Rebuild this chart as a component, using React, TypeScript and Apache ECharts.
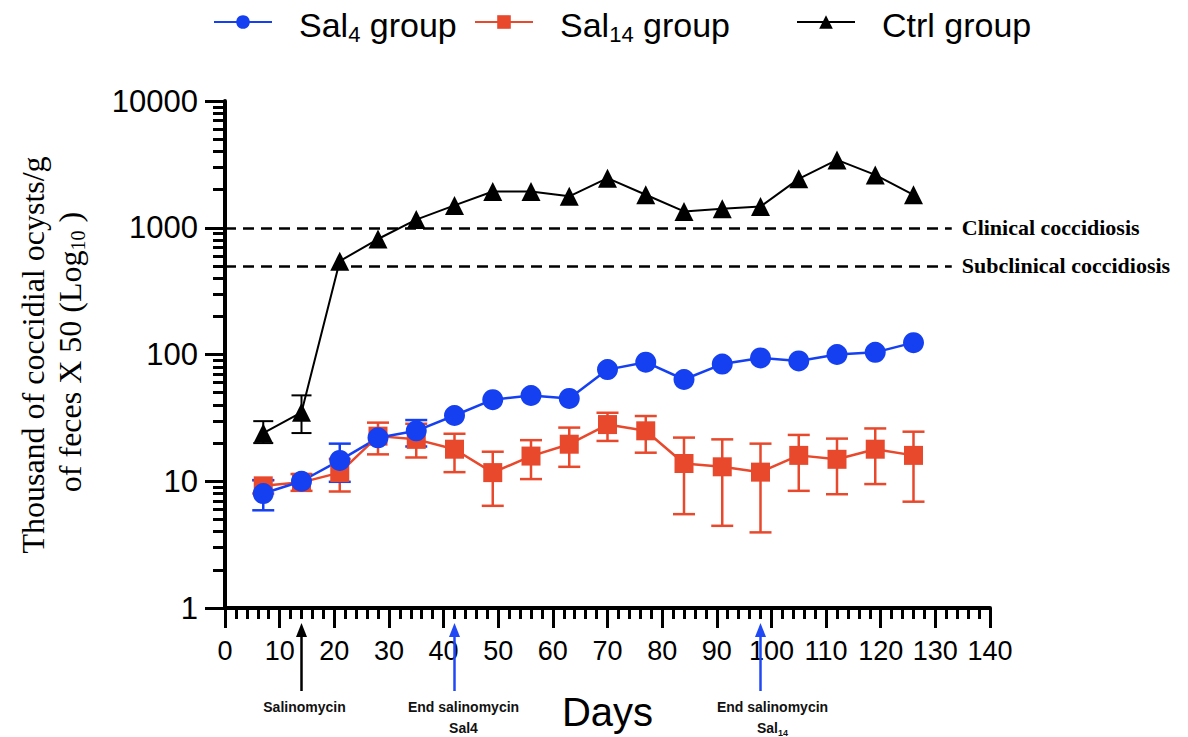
import React, { useEffect, useRef } from "react";
import * as echarts from "echarts";

// ---------- data ----------
const days = [7, 14, 21, 28, 35, 42, 49, 56, 63, 70, 77, 84, 91, 98, 105, 112, 119, 126];

const sal4 = [8, 10, 14.6, 22, 25, 33, 44, 47.5, 45, 76, 87, 63.5, 84, 94, 89, 100, 104, 124];
const sal4Low: (number | null)[] = [5.9, null, 9.9, null, 18.8, null, null, null, null, null, null, null, null, null, null, null, null, null];
const sal4High: (number | null)[] = [10.2, null, 19.8, null, 30.4, null, null, null, null, null, null, null, null, null, null, null, null, null];

const sal14 = [9.2, 9.8, 11.7, 22.7, 21.4, 17.9, 11.7, 15.8, 19.6, 28, 25, 13.8, 13, 11.8, 16, 14.9, 17.9, 16];
const sal14Low: (number | null)[] = [8.0, 8.4, 8.3, 16.3, 15.4, 11.8, 6.4, 10.4, 13, 20.8, 16.8, 5.5, 4.45, 3.95, 8.4, 7.9, 9.5, 6.9];
const sal14High: (number | null)[] = [10.2, 11.4, 15, 29, 28.4, 23.7, 17.1, 21.1, 26.5, 34.7, 32.7, 22.1, 21.4, 19.8, 23.2, 21.7, 26.1, 24.6];

const ctrl = [24, 35, 545, 815, 1160, 1500, 1930, 1930, 1770, 2460, 1820, 1345, 1410, 1470, 2430, 3430, 2610, 1820];
const ctrlLow: (number | null)[] = [20, 24, null, null, null, null, null, null, null, null, null, null, null, null, null, null, null, null];
const ctrlHigh: (number | null)[] = [29.8, 47.6, null, null, null, null, null, null, null, null, null, null, null, null, null, null, null, null];

const clinicalLevel = 1000;
const subclinicalLevel = 500;
const thresholdEndDay = 133;

const xTicks = { min: 0, max: 140, interval: 10 };
const yDecades = [1, 10, 100, 1000, 10000];

const arrowDays = [14, 42, 98];
const arrowLine1 = ["Salinomycin", "End salinomycin", "End salinomycin"];
const arrowLine2 = ["", "{b|Sal4}", "{b|Sal}{s|14}"];

// ---------- styles ----------
const BLUE = "#1540f2";
const RED = "#e8482b";
const BLACK = "#000000";
const SANS = "'Liberation Sans', Arial, Helvetica, sans-serif";
const SERIF = "'Liberation Serif', 'Times New Roman', serif";
const arrowColors = [BLACK, "#2148f5", "#2148f5"];
const arrowTextDx = [3, 9, 12];

// log minor tick positions (2..9 x each decade)
const yMinorValues: number[] = [];
for (let k = 0; k < yDecades.length - 1; k++) {
  for (let m = 2; m <= 9; m++) yMinorValues.push(m * yDecades[k]);
}

function errData(low: (number | null)[], high: (number | null)[]) {
  const out: number[][] = [];
  days.forEach((d, i) => {
    if (low[i] != null && high[i] != null) out.push([d, low[i] as number, high[i] as number]);
  });
  return out;
}

function errRender(color: string, capW: number, lw: number) {
  return (_params: any, api: any) => {
    const x = api.value(0);
    const lo = api.coord([x, api.value(1)]);
    const hi = api.coord([x, api.value(2)]);
    const style = { stroke: color, lineWidth: lw, fill: "none" };
    return {
      type: "group",
      children: [
        { type: "line", shape: { x1: lo[0], y1: lo[1], x2: hi[0], y2: hi[1] }, style },
        { type: "line", shape: { x1: hi[0] - capW / 2, y1: hi[1], x2: hi[0] + capW / 2, y2: hi[1] }, style },
        { type: "line", shape: { x1: lo[0] - capW / 2, y1: lo[1], x2: lo[0] + capW / 2, y2: lo[1] }, style },
      ],
    };
  };
}

const legendCommon = {
  orient: "horizontal" as const,
  top: 8,
  padding: 0,
  itemWidth: 58,
  itemHeight: 17,
  selectedMode: false,
  formatter: (name: string) => {
    if (name === "Sal4 group") return "{a|Sal}{s|4}{a| group}";
    if (name === "Sal14 group") return "{a|Sal}{s|14}{a| group}";
    return "{a|" + name + "}";
  },
  textStyle: {
    color: "#000",
    fontFamily: SANS,
    fontSize: 34,
    padding: [6, 0, 0, 22],
    rich: {
      a: { fontSize: 34, fontFamily: SANS, color: "#000", lineHeight: 40 },
      s: { fontSize: 22, fontFamily: SANS, color: "#000", lineHeight: 22, verticalAlign: "bottom" },
    },
  },
};

export default function App() {
  const ref = useRef<HTMLDivElement>(null);

  useEffect(() => {
    if (!ref.current) return;
    const chart = echarts.init(ref.current, null, { renderer: "svg" });

    const option: any = {
      animation: false,
      backgroundColor: "#ffffff",
      grid: { left: 225, right: 198, top: 101, bottom: 128, containLabel: false },
      legend: [
        { ...legendCommon, left: 213, data: ["Sal4 group"] },
        { ...legendCommon, left: 474, data: ["Sal14 group"] },
        { ...legendCommon, left: 796, data: ["Ctrl group"] },
      ],
      xAxis: {
        type: "value",
        min: xTicks.min,
        max: xTicks.max,
        interval: xTicks.interval,
        name: "Days",
        nameLocation: "middle",
        nameGap: 84,
        nameTextStyle: { fontSize: 40, fontFamily: SANS, color: "#000" },
        axisLine: { onZero: false, lineStyle: { color: "#000", width: 4 } },
        axisTick: { show: true, length: 20, lineStyle: { color: "#000", width: 3 } },
        minorTick: { show: true, splitNumber: 5, length: 11, lineStyle: { color: "#000", width: 3 } },
        axisLabel: { fontSize: 27, fontFamily: SANS, color: "#000", margin: 29 },
        splitLine: { show: false },
      },
      yAxis: [
        {
          type: "log",
          logBase: 10,
          min: yDecades[0],
          max: yDecades[yDecades.length - 1],
          axisLine: { lineStyle: { color: "#000", width: 4 } },
          axisTick: { show: true, length: 20, lineStyle: { color: "#000", width: 3 } },
          axisLabel: {
            fontSize: 31,
            fontFamily: SANS,
            color: "#000",
            margin: 27,
            formatter: (v: number) => String(Math.round(v)),
          },
          splitLine: { show: false },
        },
        {
          // second log axis on the same side, used only to draw the 2..9 minor ticks
          type: "log",
          logBase: 10,
          position: "left",
          offset: 0,
          min: yDecades[0],
          max: yDecades[yDecades.length - 1],
          axisLine: { show: false },
          axisLabel: { show: false },
          splitLine: { show: false },
          axisTick: {
            show: true,
            length: 12,
            customValues: yMinorValues,
            lineStyle: { color: "#000", width: 3 },
          },
        },
      ],
      graphic: [
        {
          type: "text",
          x: 33,
          y: 355,
          rotation: Math.PI / 2,
          style: {
            text: "Thousand of coccidial ocysts/g",
            fontFamily: SERIF,
            fontSize: 32,
            fill: "#000",
            align: "center",
            verticalAlign: "middle",
          },
        },
        {
          type: "text",
          x: 70,
          y: 352,
          rotation: Math.PI / 2,
          style: {
            text: "{m|of feces X 50 (Log}{s|10}{m| )}",
            align: "center",
            verticalAlign: "middle",
            fill: "#000",
            rich: {
              m: { fontFamily: SERIF, fontSize: 32, lineHeight: 36, fill: "#000" },
              s: { fontFamily: SERIF, fontSize: 20, lineHeight: 20, verticalAlign: "bottom", fill: "#000" },
            },
          },
        },
      ],
      series: [
        {
          name: "annotations",
          type: "custom",
          clip: false,
          silent: true,
          z: 5,
          data: arrowDays.map((d) => [d, yDecades[0]]),
          encode: { x: 0, y: 1 },
          renderItem: (params: any, api: any) => {
            const i = params.dataIndex;
            const p = api.coord([api.value(0), api.value(1)]);
            const x = p[0];
            const y0 = p[1];
            const c = arrowColors[i];
            const tx = x + arrowTextDx[i];
            const children: any[] = [
              { type: "line", shape: { x1: x, y1: y0 + 83, x2: x, y2: y0 + 26 }, style: { stroke: c, lineWidth: 2.5 } },
              { type: "polygon", shape: { points: [[x, y0 + 15], [x - 5.5, y0 + 29], [x + 5.5, y0 + 29]] }, style: { fill: c } },
              {
                type: "text",
                x: tx,
                y: y0 + 99,
                style: { text: arrowLine1[i], fontFamily: SANS, fontWeight: "bold", fontSize: 14, fill: "#111", align: "center", verticalAlign: "middle" },
              },
            ];
            if (arrowLine2[i]) {
              children.push({
                type: "text",
                x: tx,
                y: y0 + 120,
                style: {
                  text: arrowLine2[i],
                  align: "center",
                  verticalAlign: "middle",
                  rich: {
                    b: { fontFamily: SANS, fontWeight: "bold", fontSize: 14, lineHeight: 18, fill: "#111" },
                    s: { fontFamily: SANS, fontWeight: "bold", fontSize: 9, lineHeight: 10, verticalAlign: "bottom", fill: "#111" },
                  },
                },
              });
            }
            return { type: "group", children };
          },
        },
        {
          name: "ctrlErr",
          type: "custom",
          data: errData(ctrlLow, ctrlHigh),
          encode: { x: 0, y: [1, 2] },
          renderItem: errRender(BLACK, 20, 2),
        },
        {
          name: "Ctrl group",
          type: "line",
          data: days.map((d, i) => [d, ctrl[i]]),
          symbol: "triangle",
          symbolSize: 19,
          itemStyle: { color: BLACK },
          lineStyle: { color: BLACK, width: 2 },
          markLine: {
            silent: true,
            symbol: ["none", "none"],
            lineStyle: { color: "#000", type: [11, 7], width: 2.5 },
            label: {
              show: true,
              position: "end",
              distance: 10,
              fontFamily: SERIF,
              fontWeight: "bold",
              fontSize: 22,
              color: "#000",
              formatter: (p: any) => p.name,
            },
            data: [
              [{ name: "Clinical coccidiosis", coord: [xTicks.min, clinicalLevel] }, { coord: [thresholdEndDay, clinicalLevel] }],
              [{ name: "Subclinical coccidiosis", coord: [xTicks.min, subclinicalLevel] }, { coord: [thresholdEndDay, subclinicalLevel] }],
            ],
          },
        },
        {
          name: "sal14Err",
          type: "custom",
          data: errData(sal14Low, sal14High),
          encode: { x: 0, y: [1, 2] },
          renderItem: errRender(RED, 22, 2.5),
        },
        {
          name: "Sal14 group",
          type: "line",
          data: days.map((d, i) => [d, sal14[i]]),
          symbol: "rect",
          symbolSize: 19,
          itemStyle: { color: RED },
          lineStyle: { color: RED, width: 2.5 },
        },
        {
          name: "sal4Err",
          type: "custom",
          data: errData(sal4Low, sal4High),
          encode: { x: 0, y: [1, 2] },
          renderItem: errRender(BLUE, 22, 2.5),
        },
        {
          name: "Sal4 group",
          type: "line",
          data: days.map((d, i) => [d, sal4[i]]),
          symbol: "circle",
          symbolSize: 21,
          itemStyle: { color: BLUE },
          lineStyle: { color: BLUE, width: 2.5 },
        },
      ],
    };

    chart.setOption(option);
    return () => chart.dispose();
  }, []);

  return <div ref={ref} style={{ position: "absolute", left: 0, top: 0, width: 1188, height: 737 }} />;
}
